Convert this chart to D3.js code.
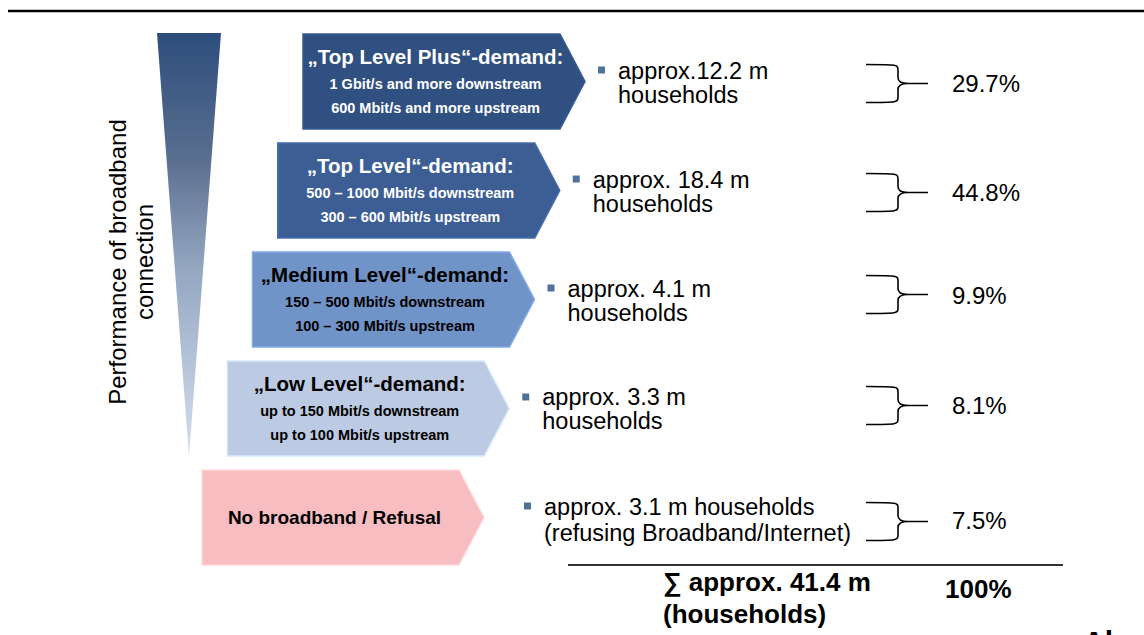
<!DOCTYPE html>
<html>
<head>
<meta charset="utf-8">
<script src="https://cdn.jsdelivr.net/npm/d3@7"></script>
<style>
  html, body { margin: 0; padding: 0; background: #fff; }
  svg { display: block; font-family: "Liberation Sans", Arial, sans-serif; }
</style>
</head>
<body>
<div id="chart"></div>
<script>
var width = 1144,
  height = 635;

// demand levels, top to bottom
var levels = [
  "„Top Level Plus“-demand:",
  "„Top Level“-demand:",
  "„Medium Level“-demand:",
  "„Low Level“-demand:",
  "No broadband / Refusal"
];
var downstream = [
  "1 Gbit/s and more downstream",
  "500 – 1000 Mbit/s downstream",
  "150 – 500 Mbit/s downstream",
  "up to 150 Mbit/s downstream",
  ""
];
var upstream = [
  "600 Mbit/s and more upstream",
  "300 – 600 Mbit/s upstream",
  "100 – 300 Mbit/s upstream",
  "up to 100 Mbit/s upstream",
  ""
];
var householdLines = [
  ["approx.12.2 m", "households"],
  ["approx. 18.4 m", "households"],
  ["approx. 4.1 m", "households"],
  ["approx. 3.3 m", "households"],
  ["approx. 3.1 m households", "(refusing Broadband/Internet)"]
];
var shares = ["29.7%", "44.8%", "9.9%", "8.1%", "7.5%"];
var totalLines = ["∑ approx. 41.4 m", "(households)"];
var totalShare = "100%";

var fills = ["#2f5081", "#3c5e95", "#7093c8", "#bccbe3", "#f7bdc0"];
var textColors = ["#fff", "#fff", "#000", "#000", "#000"];

var svg = d3
  .select("#chart")
  .append("svg")
  .attr("width", width)
  .attr("height", height);

var defs = svg.append("defs");
var grad = defs
  .append("linearGradient")
  .attr("id", "perf")
  .attr("x1", 0)
  .attr("y1", 0)
  .attr("x2", 0)
  .attr("y2", 1);
grad.append("stop").attr("offset", "0%").attr("stop-color", "#2c4d7c");
grad.append("stop").attr("offset", "30%").attr("stop-color", "#5a6f90");
grad.append("stop").attr("offset", "55%").attr("stop-color", "#93a6c0");
grad.append("stop").attr("offset", "100%").attr("stop-color", "#d3dff0");

// rows
var y = d3
  .scaleBand()
  .domain(d3.range(levels.length))
  .range([34, 565])
  .paddingInner(0.128);

// arrows step to the left going down
var xLeft = d3.scaleLinear().domain([0, 4]).range([303, 202]);
var bodyW = 257,
  tipW = 25;

// top rule
svg
  .append("line")
  .attr("x1", 8)
  .attr("x2", width)
  .attr("y1", 11)
  .attr("y2", 11)
  .attr("stroke", "#000")
  .attr("stroke-width", 2.5);

// performance wedge
var wTop = y(0) - 1,
  wBot = y(3) + y.bandwidth();
svg
  .append("path")
  .attr("d", "M157," + wTop + "L221," + wTop + "L189," + wBot + "Z")
  .attr("fill", "url(#perf)");

svg
  .append("text")
  .attr("transform", "translate(126,262) rotate(-90)")
  .attr("text-anchor", "middle")
  .attr("font-size", 24)
  .attr("fill", "#000")
  .selectAll("tspan")
  .data(["Performance of broadband", "connection"])
  .enter()
  .append("tspan")
  .attr("x", 0)
  .attr("dy", function (d, i) {
    return i === 0 ? 0 : 27;
  })
  .text(function (d) {
    return d;
  });

var row = svg
  .selectAll(".row")
  .data(levels)
  .enter()
  .append("g")
  .attr("class", "row");

// arrow shapes
row
  .append("path")
  .attr("d", function (d, i) {
    var x0 = xLeft(i),
      y0 = y(i),
      h = y.bandwidth();
    return (
      "M" + x0 + "," + y0 +
      "L" + (x0 + bodyW) + "," + y0 +
      "L" + (x0 + bodyW + tipW) + "," + (y0 + h / 2) +
      "L" + (x0 + bodyW) + "," + (y0 + h) +
      "L" + x0 + "," + (y0 + h) + "Z"
    );
  })
  .attr("fill", function (d, i) {
    return fills[i];
  })
  .attr("stroke", function (d, i) {
    return d3.color(fills[i]).brighter(0.4);
  })
  .attr("stroke-width", 1.5);

// arrow titles
row
  .append("text")
  .attr("x", function (d, i) {
    return xLeft(i) + bodyW / 2 + 4;
  })
  .attr("y", function (d, i) {
    return i === 4 ? y(i) + y.bandwidth() / 2 + 7 : y(i) + 30;
  })
  .attr("text-anchor", "middle")
  .attr("font-weight", "bold")
  .attr("font-size", function (d, i) {
    return i === 4 ? 19 : 20.5;
  })
  .attr("fill", function (d, i) {
    return textColors[i];
  })
  .text(function (d) {
    return d;
  });

row
  .append("text")
  .attr("x", function (d, i) {
    return xLeft(i) + bodyW / 2 + 4;
  })
  .attr("y", function (d, i) {
    return y(i) + 55;
  })
  .attr("text-anchor", "middle")
  .attr("font-weight", "bold")
  .attr("font-size", 14.5)
  .attr("fill", function (d, i) {
    return textColors[i];
  })
  .text(function (d, i) {
    return downstream[i];
  });

row
  .append("text")
  .attr("x", function (d, i) {
    return xLeft(i) + bodyW / 2 + 4;
  })
  .attr("y", function (d, i) {
    return y(i) + 79;
  })
  .attr("text-anchor", "middle")
  .attr("font-weight", "bold")
  .attr("font-size", 14.5)
  .attr("fill", function (d, i) {
    return textColors[i];
  })
  .text(function (d, i) {
    return upstream[i];
  });

// household bullets
function textX(i) {
  return i === 4 ? xLeft(i) + bodyW + tipW + 60 : xLeft(i) + bodyW + tipW + 33;
}

row
  .append("rect")
  .attr("x", function (d, i) {
    return textX(i) - 20;
  })
  .attr("y", function (d, i) {
    return y(i) + y.bandwidth() / 2 - 15;
  })
  .attr("width", 7)
  .attr("height", 7)
  .attr("fill", "#4f7299");

row
  .append("text")
  .attr("font-size", 23.5)
  .attr("fill", "#000")
  .selectAll("tspan")
  .data(function (d, i) {
    return householdLines[i].map(function (t) {
      return { t: t, i: i };
    });
  })
  .enter()
  .append("tspan")
  .attr("x", function (d) {
    return textX(d.i);
  })
  .attr("y", function (d, j) {
    var base = y(d.i) + y.bandwidth() / 2 - 3;
    if (d.i === 4) base += 1;
    return base + j * (d.i === 4 ? 26 : 24);
  })
  .text(function (d) {
    return d.t;
  });

// braces
var bx0 = 866,
  bx1 = 898,
  bx2 = 928;
row
  .append("path")
  .attr("d", function (d, i) {
    var m = y(i) + y.bandwidth() / 2 + (i === 4 ? 4 : i === 2 ? -5 : i === 3 ? -3 : 2),
      t = m - 19,
      b = m + 19;
    return (
      "M" + bx0 + "," + t +
      "C" + bx1 + "," + t + " " + bx1 + "," + t + " " + bx1 + "," + (t + 6) +
      "L" + bx1 + "," + (m - 6) +
      "Q" + bx1 + "," + m + " " + (bx1 + 10) + "," + m +
      "L" + bx2 + "," + m +
      "M" + (bx1 + 10) + "," + m +
      "Q" + bx1 + "," + m + " " + bx1 + "," + (m + 6) +
      "L" + bx1 + "," + (b - 6) +
      "C" + bx1 + "," + b + " " + bx1 + "," + b + " " + bx0 + "," + b
    );
  })
  .attr("fill", "none")
  .attr("stroke", "#000")
  .attr("stroke-width", 1.6);

row
  .append("text")
  .attr("x", 952)
  .attr("y", function (d, i) {
    return y(i) + y.bandwidth() / 2 + (i === 4 ? 12 : i === 2 ? 4 : i === 3 ? 6 : 10);
  })
  .attr("font-size", 24)
  .attr("fill", "#000")
  .text(function (d, i) {
    return shares[i];
  });

// total
svg
  .append("line")
  .attr("x1", 568)
  .attr("x2", 1063)
  .attr("y1", 565)
  .attr("y2", 565)
  .attr("stroke", "#333")
  .attr("stroke-width", 2);

svg
  .append("text")
  .attr("font-size", 26)
  .attr("font-weight", "bold")
  .attr("fill", "#000")
  .selectAll("tspan")
  .data(totalLines)
  .enter()
  .append("tspan")
  .attr("x", 663)
  .attr("y", function (d, i) {
    return 591 + i * 32;
  })
  .text(function (d) {
    return d;
  });

svg
  .append("text")
  .attr("x", 945)
  .attr("y", 598)
  .attr("font-size", 26)
  .attr("font-weight", "bold")
  .attr("fill", "#000")
  .text(totalShare);

// cut-off footer word
svg
  .append("text")
  .attr("x", 1083)
  .attr("y", 652)
  .attr("font-size", 30)
  .attr("font-weight", "bold")
  .attr("fill", "#000")
  .text("Al");
</script>
</body>
</html>
